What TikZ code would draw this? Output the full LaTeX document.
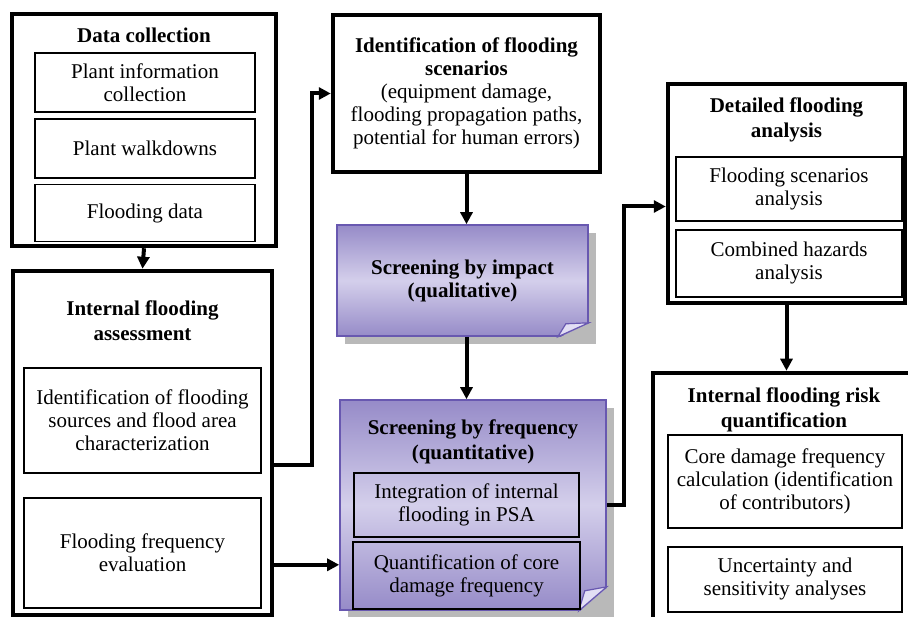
\documentclass[tikz,border=0pt]{standalone}
\usepackage{fontspec}
\setmainfont{Liberation Serif}
\usetikzlibrary{arrows.meta, positioning, calc, shadows}

\definecolor{scrdark}{RGB}{150,139,200}
\definecolor{scrlight}{RGB}{212,207,235}
\definecolor{scrline}{RGB}{104,88,176}
\definecolor{scrflap}{RGB}{226,222,244}

\begin{document}
\begin{tikzpicture}[
        x=1pt, y=-1pt,
        every node/.style={font=\fontsize{21}{23}\selectfont, align=center, inner sep=2pt},
        title/.style={font=\fontsize{21}{25}\selectfont\bfseries},
        outer/.style={draw, line width=4.5pt},
        inbox/.style={draw, line width=1.8pt},
        screen/.style={draw=scrline, line width=1.6pt, top color=scrdark, bottom color=scrdark, middle color=scrlight,
            drop shadow={shadow xshift=8pt, shadow yshift=-8pt, fill=gray!55, opacity=1}},
        flow/.style={line width=4pt, -{Triangle[length=12pt, width=12pt]}}
    ]
        \useasboundingbox (0,0) rectangle (908,617);

        % Thu thập dữ liệu
        \node[outer, minimum width=264, minimum height=232] (dc) at (144,130) {};
        \node[title, below=14pt of dc.north] (dct) {Data collection};
        \node[inbox, minimum width=220, minimum height=59] (dc1) at (145,82.5) {Plant information\\collection};
        \node[inbox, minimum width=220, minimum height=59, below=5pt of dc1] (dc2) {Plant walkdowns};
        \node[inbox, minimum width=220, minimum height=57, below=5pt of dc2] (dc3) {Flooding data};

        % Đánh giá ngập nội bộ
        \node[outer, minimum width=259, minimum height=344] (ifa) at (142.5,443) {};
        \node[title, below=30pt of ifa.north] (ifat) {Internal flooding\\assessment};
        \node[inbox, minimum width=237, minimum height=105] (ifa1) at (142.5,420.5) {Identification of flooding\\sources and flood area\\characterization};
        \node[inbox, minimum width=237, minimum height=110, below=23pt of ifa1] (ifa2) {Flooding frequency\\evaluation};

        % Kịch bản ngập
        \node[outer, minimum width=267, minimum height=157] (ids) at (466.5,93.5) {\textbf{Identification of flooding}\\\textbf{scenarios}\\(equipment damage,\\flooding propagation paths,\\potential for human errors)};

        % Sàng lọc
        \node[screen, minimum width=251, minimum height=111] (imp) at (462.5,280.5) {\textbf{Screening by impact}\\\textbf{(qualitative)}};
        \fill[gray!55] ($(imp.south east)+(-31,1.5)$) -- ($(imp.south east)+(1.5,1.5)$) -- ($(imp.south east)+(1.5,-14)$) -- cycle;
        \filldraw[fill=scrflap, draw=scrline, line width=1.2pt] ($(imp.south east)+(-31,0)$) -- ($(imp.south east)+(-23,-13)$) -- ($(imp.south east)+(0,-14)$) -- cycle;

        \node[screen, minimum width=266, minimum height=210] (frq) at (473,505) {};
        \fill[gray!55] ($(frq.south east)+(-28,1.5)$) -- ($(frq.south east)+(1.5,1.5)$) -- ($(frq.south east)+(1.5,-24)$) -- cycle;
        \filldraw[fill=scrflap, draw=scrline, line width=1.2pt] ($(frq.south east)+(-28,0)$) -- ($(frq.south east)+(-22,-20)$) -- ($(frq.south east)+(0,-24)$) -- cycle;
        \node[title, below=18pt of frq.north] (frqt) {Screening by frequency\\(quantitative)};
        \node[inbox, minimum width=225, minimum height=64] (frq1) at (466.5,505) {Integration of internal\\flooding in PSA};
        \node[inbox, line width=2.2pt, minimum width=227, minimum height=67, below=3pt of frq1] (frq2) {Quantification of core\\damage frequency};

        % Phân tích chi tiết
        \node[outer, minimum width=237, minimum height=219] (det) at (786.5,193.5) {};
        \node[title, below=14pt of det.north] (dett) {Detailed flooding\\analysis};
        \node[inbox, minimum width=226, minimum height=64] (det1) at (789,189) {Flooding scenarios\\analysis};
        \node[inbox, minimum width=226, minimum height=67, below=7pt of det1] (det2) {Combined hazards\\analysis};

        % Định lượng rủi ro
        \node[outer, minimum width=262, minimum height=252] (rsk) at (784,499) {};
        \node[title, below=15pt of rsk.north] (rskt) {Internal flooding risk\\quantification};
        \node[inbox, minimum width=234, minimum height=93] (rsk1) at (785,481.5) {Core damage frequency\\calculation (identification\\of contributors)};
        \node[inbox, minimum width=234, minimum height=65, below=17pt of rsk1] (rsk2) {Uncertainty and\\sensitivity analyses};

        % Các mũi tên
        \coordinate (ffe) at ([yshift=-12pt]ifa2.east);
        \draw[flow] (dc.south) -- (ifa.north);
        \draw[flow] ([yshift=-22pt]ifa.east) -- ++(38,0) |- (ids.west);
        \draw[flow] (ffe -| ifa.east) -- (ffe -| frq.west);
        \draw[flow] (ids.south) -- (ids.south |- imp.north);
        \draw[flow] (imp.south -| ids.south) -- (ids.south |- frq.north);
        \draw[flow] (frq.east) -- ++(17,0) |- ([yshift=-13pt]det.west);
        \draw[flow] (det.south) -- (det.south |- rsk.north);
    \end{tikzpicture}
\end{document}
